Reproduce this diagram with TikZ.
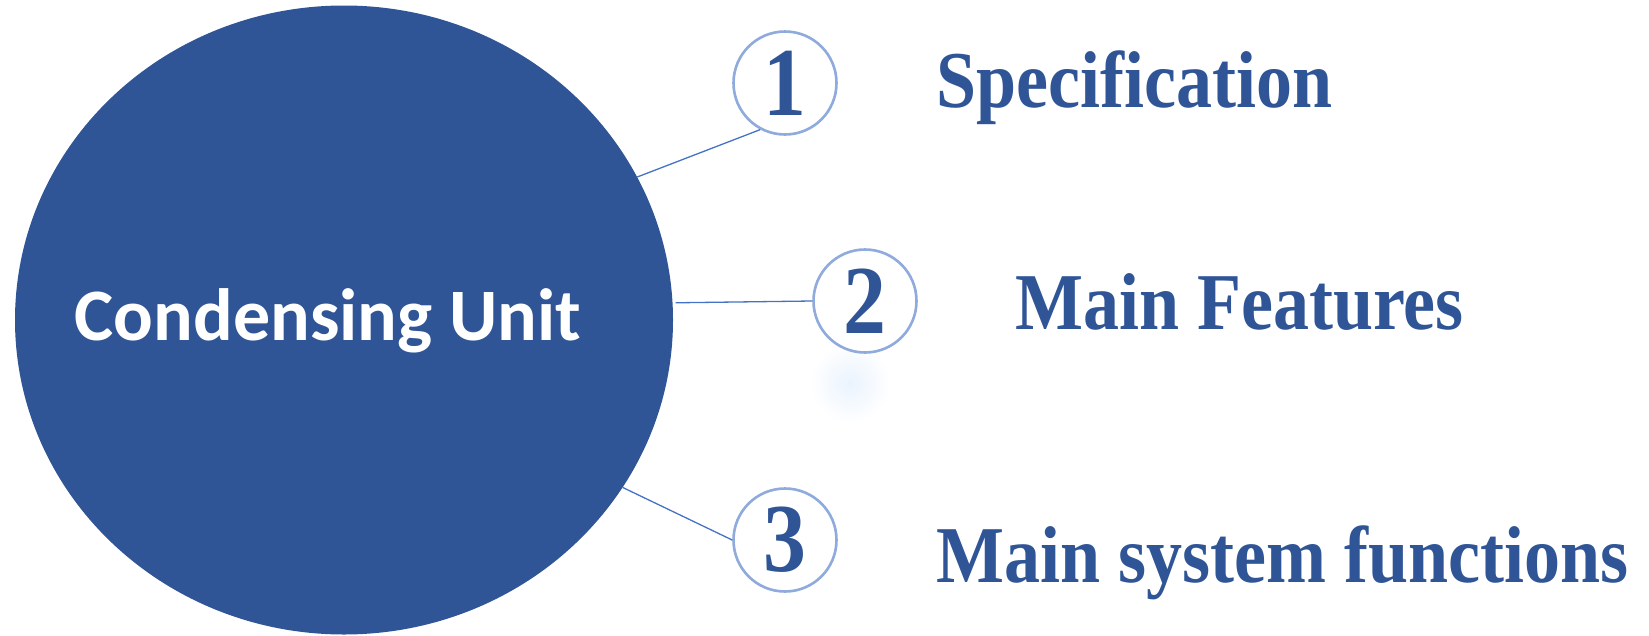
\documentclass[tikz,border=0pt]{standalone}
\usepackage{fontspec}
\setmainfont{Liberation Serif}
\newfontfamily\unitfont{Carlito}
\usepackage{tikz}
\usetikzlibrary{shapes.geometric}
\definecolor{cunit}{RGB}{47,85,151}
\definecolor{cring}{RGB}{143,170,220}
\definecolor{cline}{RGB}{68,114,196}
\definecolor{cglow}{RGB}{234,243,253}
\tikzstyle{cunit}=[ellipse, fill=cunit, inner sep=0pt, minimum width=658pt, minimum height=629pt]
\tikzstyle{cnumber}=[circle, draw=cring, line width=2.6pt, fill=white, inner sep=0pt, minimum size=103pt, text=cunit, font=\fontsize{78}{78}\selectfont\bfseries]
\tikzstyle{clabel}=[anchor=base west, inner sep=0pt, text=cunit, font=\fontsize{72}{80}\selectfont\bfseries]
\tikzstyle{clink}=[draw=cline, line width=1.3pt]
\newcommand{\cnumber}[3]{
	\node[cnumber] (#1) at (#2) {\scalebox{1.1}[1.25]{#3}};}
\newcommand{\clabel}[3]{
	\node[clabel] (#1) at (#2) {\scalebox{1}[1.12]{#3}};}

\begin{document}
\begin{tikzpicture}[x=1pt, y=-1pt]
	\useasboundingbox (0,0) rectangle (1649,635);
	% faint sparkle below the second ring
	\shade[inner color=cglow, outer color=white] (850,383) circle (40pt);

	\node[cunit] (unit) at (344,320) {};
	\node[text=white, font=\unitfont\fontsize{74}{80}\selectfont\bfseries] (K) at (328,321) {Condensing Unit};

	\cnumber{n1}{785,83}{1}
	\cnumber{n2}{865,301}{2}
	\cnumber{n3}{785,540}{3}

	\clabel{spec}{936,107}{Specification}
	\clabel{feat}{1015,329}{Main Features}
	\clabel{func}{936,582}{Main system functions}

	\path[clink] (unit.26) -- (n1.242);
	\path[clink] ([xshift=3pt]unit.3) -- (n2.180);
	\path[clink] (unit.-31) -- (n3.180);
\end{tikzpicture}
\end{document}
